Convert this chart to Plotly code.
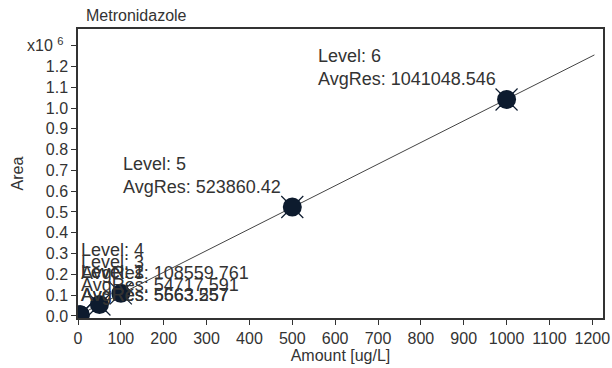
import numpy as np
import plotly.graph_objects as go

levels = [1, 2, 3, 4, 5, 6]
amounts = [5, 5, 50, 100, 500, 1000]
avg_res = [5563.557, 5663.257, 54717.591, 108559.761, 523860.42, 1041048.546]
res_text = ["5563.557", "5663.257", "54717.591", "108559.761", "523860.42", "1041048.546"]
x_ticks = list(range(0, 1201, 100))
y_ticks = [i / 10 for i in range(0, 13)]

SC = 1e6
ys = [v / SC for v in avg_res]

slope, icpt = np.polyfit(amounts, avg_res, 1)
lx = [0, 1205]
ly = [(slope * v + icpt) / SC for v in lx]

FONT = "Liberation Sans, Arial, sans-serif"
TXT = "#333333"

fig = go.Figure()
fig.add_trace(go.Scatter(x=lx, y=ly, mode="lines",
                         line=dict(color="#444444", width=1), hoverinfo="skip"))
fig.add_trace(go.Scatter(x=amounts, y=ys, mode="markers",
                         marker=dict(symbol="x-thin", size=22,
                                     line=dict(color="#0d1b2e", width=1.2))))
fig.add_trace(go.Scatter(x=amounts, y=ys, mode="markers",
                         marker=dict(symbol="circle", size=19, color="#0d1b2e",
                                     line=dict(width=0))))

for lv, a, y, t in zip(levels, amounts, ys, res_text):
    txt = f"Level: {lv}<br>AvgRes: {t}"
    if a < 200:
        fig.add_annotation(x=0, y=y, text=txt, showarrow=False, xanchor="left",
                           yanchor="bottom", align="left", xshift=1, yshift=8,
                           font=dict(family=FONT, size=18, color=TXT))
    else:
        fig.add_annotation(x=a, y=y, text=txt, showarrow=False, xanchor="right",
                           yanchor="bottom", align="left", xshift=-9, yshift=8,
                           font=dict(family=FONT, size=18, color=TXT))

fig.add_annotation(xref="paper", yref="paper", x=0.012, y=1.0, yshift=3,
                   text="Metronidazole", showarrow=False, xanchor="left",
                   yanchor="bottom", font=dict(family=FONT, size=16, color=TXT))

fig.update_layout(
    width=612, height=368,
    margin=dict(l=78, r=9, t=29, b=50, autoexpand=False),
    paper_bgcolor="white", plot_bgcolor="white",
    showlegend=False,
    font=dict(family=FONT, size=16, color=TXT),
    xaxis=dict(range=[0, 1225], tickvals=x_ticks, ticks="outside", ticklen=5,
               tickcolor="#333", showgrid=False, zeroline=False,
               showline=True, linecolor="#333", linewidth=1.5, mirror=True,
               tickfont=dict(size=16), automargin=False,
               title=dict(text="Amount [ug/L]", standoff=2, font=dict(size=16))),
    yaxis=dict(range=[-0.01, 1.38], tickvals=y_ticks + [1.3],
               ticktext=[f"{v:.1f}" for v in y_ticks] + ["x10 <sup>6</sup> "],
               ticks="outside", ticklen=5, tickcolor="#333",
               showgrid=False, zeroline=False, automargin=False,
               showline=True, linecolor="#333", linewidth=1.5, mirror=True,
               tickfont=dict(size=16),
               title=dict(text="Area", standoff=0, font=dict(size=16))),
)

fig.write_html("out.html")
